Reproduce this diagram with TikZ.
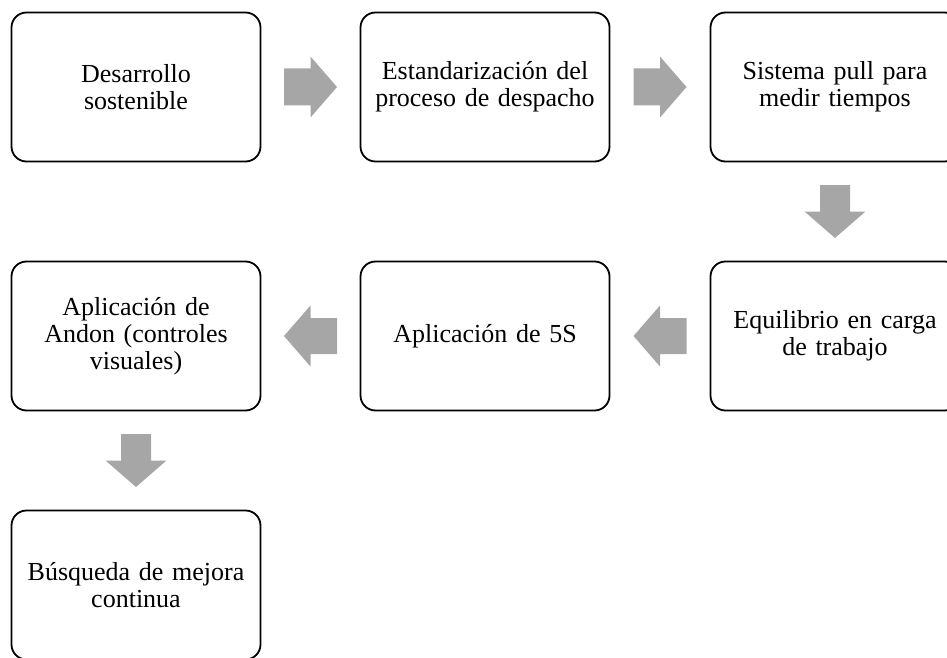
\documentclass[tikz,border=0pt]{standalone}
\usepackage{fontspec}
\setmainfont{Liberation Serif}
\usetikzlibrary{calc}
\definecolor{arrowgray}{RGB}{166,166,166}
\tikzset{
  stagebox/.style={draw=black, line width=1.8pt, rounded corners=15pt, fill=white,
    minimum width=249pt, minimum height=149pt, text width=240pt, align=center,
    inner sep=0pt, font=\fontsize{26}{27}\selectfont},
  rblock/.pic={\fill[arrowgray] (-26.5,-18.5) -- (0,-18.5) -- (0,-30.5) -- (26.5,0) -- (0,30.5) -- (0,18.5) -- (-26.5,18.5) -- cycle;},
  lblock/.pic={\fill[arrowgray] (26.5,-18) -- (0,-18) -- (0,-30.5) -- (-26.5,0) -- (0,30.5) -- (0,18) -- (26.5,18) -- cycle;},
  dblock/.pic={\fill[arrowgray] (-15,-26.5) -- (-15,0) -- (-30.5,0) -- (0,26.5) -- (30.5,0) -- (15,0) -- (15,-26.5) -- cycle;}
}
\begin{document}
\begin{tikzpicture}[x=1pt,y=-1pt]
\useasboundingbox (0,0) rectangle (947,658);
\clip (0,0) rectangle (947,658);
\node[stagebox] (n1) at (136,87) {Desarrollo\\sostenible};
\node[stagebox] (n2) at (485,87) {Estandarización del\\proceso de despacho};
\node[stagebox] (n3) at (835,87) {Sistema pull para\\medir tiempos};
\node[stagebox] (n4) at (835,336) {Equilibrio en carga\\de trabajo};
\node[stagebox] (n5) at (485,336) {Aplicación de 5S};
\node[stagebox] (n6) at (136,336) {Aplicación de\\Andon (controles\\visuales)};
\node[stagebox] (n7) at (136,585) {Búsqueda de mejora\\continua};
\pic at ($(n1.east)!0.5!(n2.west)$) {rblock};
\pic at ($(n2.east)!0.5!(n3.west)$) {rblock};
\pic at ($(n3.south)!0.5!(n4.north)$) {dblock};
\pic at ($(n4.west)!0.5!(n5.east)$) {lblock};
\pic at ($(n5.west)!0.5!(n6.east)$) {lblock};
\pic at ($(n6.south)!0.5!(n7.north)$) {dblock};
\end{tikzpicture}
\end{document}
